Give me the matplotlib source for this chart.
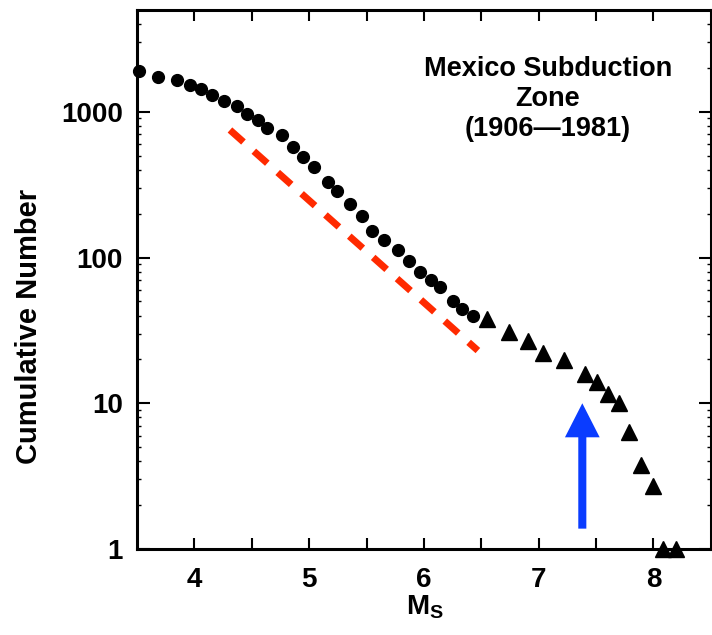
import matplotlib
matplotlib.use("Agg")
import matplotlib.pyplot as plt
from matplotlib.ticker import FixedLocator, LogLocator, NullFormatter

plt.rcParams['font.family'] = ['Liberation Sans', 'DejaVu Sans']
plt.rcParams['font.weight'] = 'bold'
plt.rcParams['mathtext.fontset'] = 'custom'
plt.rcParams['mathtext.rm'] = 'Liberation Sans:bold'
plt.rcParams['mathtext.bf'] = 'Liberation Sans:bold'

# cumulative counts (circles then triangles)
circle_ms = [3.52, 3.68, 3.85, 3.96, 4.06, 4.15, 4.26, 4.37, 4.46, 4.55,
             4.63, 4.76, 4.86, 4.95, 5.04, 5.16, 5.24, 5.36, 5.46, 5.55,
             5.65, 5.77, 5.87, 5.97, 6.06, 6.14, 6.25, 6.33, 6.43]
circle_n = [1900, 1745, 1665, 1530, 1437, 1308, 1183, 1099, 964, 877,
            773, 688, 569, 492, 415, 330, 286, 233, 194, 151,
            131, 112, 94, 79, 70, 63, 50, 44, 40]

tri_ms = [6.55, 6.74, 6.91, 7.04, 7.22, 7.40, 7.51, 7.60, 7.70, 7.79,
          7.89, 8.00, 8.08, 8.20]
tri_n = [38, 31, 26.6, 22, 19.7, 16, 14, 11.5, 10, 6.4, 3.8, 2.7, 1, 1]

# dashed reference slope
red_ms = [4.31, 6.47]
red_n = [750, 23]

# arrow marking the characteristic event
arrow_m = 7.38
arrow_from = 1.38
arrow_to = 10

fig = plt.figure(figsize=(7.12, 6.35), dpi=100)
ax = fig.add_axes([0.1924, 0.1354, 0.806, 0.849])

ax.plot(red_ms, red_n, color="#ff2a00", lw=5, linestyle=(0, (2.6, 2.0)),
        solid_capstyle="butt", dash_capstyle="butt", zorder=2)
ax.plot(circle_ms, circle_n, "o", color="black", ms=8.5, clip_on=False, zorder=3)
ax.plot(tri_ms, tri_n, "^", color="black", ms=11, clip_on=False, zorder=3)

ax.annotate("", xy=(arrow_m, arrow_to), xytext=(arrow_m, arrow_from),
            arrowprops=dict(width=5.8, headwidth=25, headlength=24.5,
                            shrink=0, color="#0a3cff", lw=0))

ax.set_yscale("log")
ax.set_xlim(3.5, 8.5)
ax.set_ylim(1, 5000)

ax.xaxis.set_major_locator(FixedLocator([4, 5, 6, 7, 8]))
ax.xaxis.set_minor_locator(FixedLocator([4.5, 5.5, 6.5, 7.5]))
ax.yaxis.set_major_locator(FixedLocator([1, 10, 100, 1000]))
ax.yaxis.set_minor_locator(LogLocator(base=10, subs=range(2, 10)))
ax.yaxis.set_minor_formatter(NullFormatter())
ax.set_yticklabels(["1", "10", "100", "1000"])

ax.tick_params(which="both", direction="in", top=True, right=True, width=1.5)
ax.tick_params(axis="x", which="major", length=8, labelsize=20, pad=13)
ax.tick_params(axis="x", which="minor", length=8)
ax.tick_params(axis="y", which="major", length=9, labelsize=20, pad=10)
ax.tick_params(axis="y", which="minor", length=3, width=1)

for s in ax.spines.values():
    s.set_linewidth(2.2)

ax.set_ylabel("Cumulative Number", fontsize=21, fontweight="bold")
ax.yaxis.set_label_coords(-0.163, 0.412)
ax.set_xlabel(r"$\mathbf{M}_\mathbf{S}$", fontsize=20)
ax.xaxis.set_label_coords(0.502, -0.082)

ax.text(0.716, 0.915, "Mexico Subduction\nZone\n(1906—1981)", transform=ax.transAxes,
        ha="center", va="top", multialignment="center", fontsize=19.5,
        fontweight="bold", linespacing=1.2)

fig.savefig("out.png", dpi=100)
